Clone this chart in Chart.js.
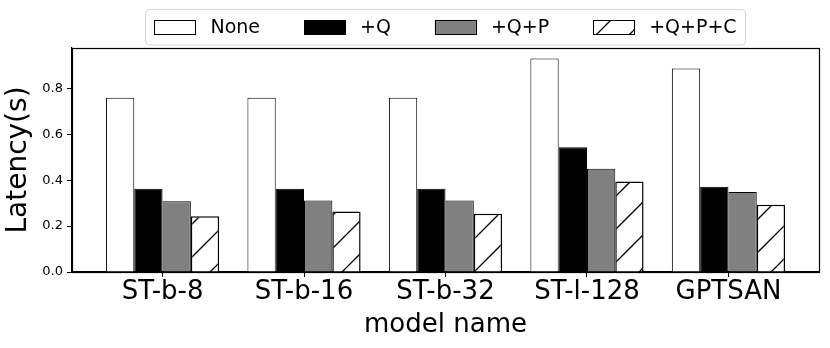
<!DOCTYPE html>
<html>
<head>
<meta charset="utf-8">
<script src="https://cdn.jsdelivr.net/npm/chart.js@4/dist/chart.umd.min.js"></script>
<style>
  html, body { margin: 0; padding: 0; background: #ffffff; }
  #wrap { width: 830px; height: 348px; }
</style>
</head>
<body>
<div id="wrap"><canvas id="c" width="830" height="348"></canvas></div>
<script>
// ---- data ----
const categories = ["ST-b-8", "ST-b-16", "ST-b-32", "ST-l-128", "GPTSAN"];
const seriesNames = ["None", "+Q", "+Q+P", "+Q+P+C"];
const noneValues = [0.759, 0.759, 0.759, 0.930, 0.887];
const qValues = [0.363, 0.363, 0.363, 0.544, 0.371];
const qpValues = [0.308, 0.311, 0.311, 0.450, 0.349];
const qpcValues = [0.243, 0.264, 0.254, 0.394, 0.293];
const yTickValues = [0.0, 0.2, 0.4, 0.6, 0.8];
const yTickLabels = ["0.0", "0.2", "0.4", "0.6", "0.8"];
const xTitle = "model name";
const yTitle = "Latency(s)";

const FONT = "'DejaVu Sans', 'Liberation Sans', sans-serif";

// hatch pattern '/'
function makeHatch(ph) {
  const s = 33;
  const cv = document.createElement('canvas');
  cv.width = s; cv.height = s;
  const g = cv.getContext('2d');
  g.fillStyle = '#ffffff';
  g.fillRect(0, 0, s, s);
  g.strokeStyle = '#000000';
  g.lineWidth = 1.3;
  g.beginPath();
  for (let k = -1; k <= 2; k++) {
    const c = ph + k * s;
    g.moveTo(c + 2, -2); g.lineTo(c - s - 2, s + 2);
  }
  g.stroke();
  return g.createPattern(cv, 'repeat');
}
const hatch = makeHatch(20);
const legendHatch = makeHatch(4);

const toPts = arr => arr.map((v, i) => ({ x: i, y: v }));

const seriesData = [noneValues, qValues, qpValues, qpcValues];
const fills = ['#ffffff', '#000000', '#808080', hatch];
const borderWidths = [1, 1, 1, 1.5];

const datasets = seriesNames.map((name, k) => ({
  label: name,
  data: toPts(seriesData[k]),
  backgroundColor: fills[k],
  borderColor: '#000000',
  borderWidth: borderWidths[k],
  borderSkipped: 'bottom',
  categoryPercentage: 0.8,
  barPercentage: 1.0
}));

const framePlugin = {
  id: 'frame',
  afterDraw(chart) {
    const ctx = chart.ctx;
    const a = chart.chartArea;
    ctx.save();
    ctx.strokeStyle = '#000000';
    ctx.lineWidth = 1.2;
    ctx.strokeRect(Math.round(a.left) + 0.5, Math.round(a.top) + 0.5,
                   Math.round(a.right - a.left), Math.round(a.bottom - a.top));
    ctx.restore();

    // legend (drawn from the datasets)
    const fs = 19;
    ctx.save();
    ctx.font = fs + "px " + FONT;
    const hw = 41, hh = 14, pad = 9, tp = 15, cs = 44;
    const items = chart.data.datasets.map(ds => ({ ds, w: ctx.measureText(ds.label).width }));
    let total = pad * 2;
    items.forEach((it, i) => { total += hw + tp + it.w + (i ? cs : 0); });
    const cx = (a.left + a.right) / 2;
    const left = cx - total / 2;
    const top = 9.5, h = 35.5;
    const r = 4;
    ctx.beginPath();
    ctx.moveTo(left + r, top);
    ctx.lineTo(left + total - r, top);
    ctx.arcTo(left + total, top, left + total, top + r, r);
    ctx.lineTo(left + total, top + h - r);
    ctx.arcTo(left + total, top + h, left + total - r, top + h, r);
    ctx.lineTo(left + r, top + h);
    ctx.arcTo(left, top + h, left, top + h - r, r);
    ctx.lineTo(left, top + r);
    ctx.arcTo(left, top, left + r, top, r);
    ctx.closePath();
    ctx.fillStyle = 'rgba(255,255,255,0.8)';
    ctx.fill();
    ctx.strokeStyle = '#d6d6d6';
    ctx.lineWidth = 1;
    ctx.stroke();
    let x = left + pad;
    const cy = top + h / 2;
    items.forEach((it) => {
      ctx.fillStyle = it.ds.backgroundColor === hatch ? legendHatch : it.ds.backgroundColor;
      ctx.fillRect(x, cy - hh / 2, hw, hh);
      ctx.strokeStyle = '#000000';
      ctx.lineWidth = 1;
      ctx.strokeRect(Math.round(x) + 0.5, Math.round(cy - hh / 2) + 0.5, hw, hh);
      ctx.fillStyle = '#000000';
      ctx.textBaseline = 'middle';
      ctx.textAlign = 'left';
      ctx.fillText(it.ds.label, x + hw + tp, cy + 1);
      x += hw + tp + it.w + cs;
    });
    ctx.restore();
  }
};

new Chart(document.getElementById('c'), {
  type: 'bar',
  data: { datasets },
  options: {
    responsive: false,
    animation: false,
    events: [],
    layout: { padding: { top: 48, right: 11, left: 0, bottom: 0 } },
    plugins: { legend: { display: false }, tooltip: { enabled: false } },
    scales: {
      x: {
        type: 'linear',
        min: -0.64,
        max: 4.64,
        offset: false,
        afterBuildTicks: (s) => { s.ticks = categories.map((_, i) => ({ value: i })); },
        afterFit: (s) => { s.height = 76; },
        ticks: {
          autoSkip: false,
          maxRotation: 0,
          minRotation: 0,
          padding: 0,
          color: '#000000',
          font: { family: FONT, size: 26 },
          callback: (v) => categories[v]
        },
        grid: { offset: false, drawOnChartArea: false, drawTicks: true, tickLength: 5, color: '#000000', tickWidth: 1 },
        border: { display: true, color: '#000000', width: 1.2 },
        title: { display: true, text: xTitle, color: '#000000', font: { family: FONT, size: 26 }, padding: { top: 0, bottom: 7 } }
      },
      y: {
        min: 0,
        max: 0.976,
        afterBuildTicks: (s) => { s.ticks = yTickValues.map(v => ({ value: v })); },
        afterFit: (s) => { s.width = 72; },
        ticks: {
          padding: 4,
          color: '#000000',
          font: { family: FONT, size: 13 },
          callback: (v) => { const i = yTickValues.indexOf(v); return i >= 0 ? yTickLabels[i] : ''; }
        },
        grid: { drawOnChartArea: false, drawTicks: true, tickLength: 5, color: '#000000', tickWidth: 1 },
        border: { display: true, color: '#000000', width: 1.2 },
        title: { display: true, text: yTitle, color: '#000000', font: { family: FONT, size: 28 }, padding: { top: 2, bottom: 0 } }
      }
    }
  },
  plugins: [framePlugin]
});
</script>
</body>
</html>
